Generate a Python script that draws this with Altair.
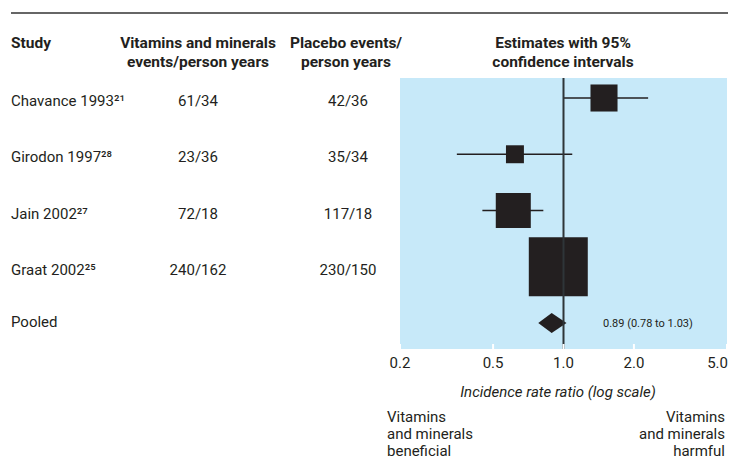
import altair as alt
import pandas as pd

# ---- data ----
studies = ["Chavance 1993", "Girodon 1997", "Jain 2002", "Graat 2002"]
refs = ["²¹", "²⁸", "²⁷", "²⁵"]
vm_events = ["61/34", "23/36", "72/18", "240/162"]
pl_events = ["42/36", "35/34", "117/18", "230/150"]
est = [1.49, 0.62, 0.61, 0.95]
lo = [1.00, 0.35, 0.45, 0.78]
hi = [2.30, 1.09, 0.82, 1.16]
weight = [12.7, 5.6, 21.3, 60.4]
pooled_est, pooled_lo, pooled_hi = 0.89, 0.78, 1.03
pooled_label = "0.89 (0.78 to 1.03)"
ticks = [0.2, 0.5, 1.0, 2.0, 5.0]

# ---- layout ----
W, H = 327, 271
FONT = "Roboto, sans-serif"
TXT = "#231f20"
FS = 15

rows = list(range(len(studies)))
pooled_row = len(studies)
df = pd.DataFrame({
    "row": rows,
    "study": [s + r for s, r in zip(studies, refs)],
    "vm": vm_events, "pl": pl_events,
    "est": est, "lo": lo, "hi": hi, "w": weight,
})
df_pool_txt = pd.DataFrame({"row": [pooled_row], "study": ["Pooled"], "lab": [pooled_label]})
h = 10 / 56.25
df_diamond = pd.DataFrame({
    "x": [pooled_lo, pooled_est, pooled_hi],
    "y": [pooled_row, pooled_row - h, pooled_row],
    "y2": [pooled_row, pooled_row + h, pooled_row],
})
df_ticks = pd.DataFrame({"t": ticks})
df_ticks_mid = pd.DataFrame({"t": ticks[:-1]})
df_ticks_last = pd.DataFrame({"t": ticks[-1:]})
df_one = pd.DataFrame({"v": [1.0]})

xs = alt.Scale(type="log", domain=[0.2, 5], range=[0, W], nice=False)
ys = alt.Scale(domain=[-0.3556, 4.462], reverse=True, nice=False, zero=False)
X = lambda f: alt.X(f, scale=xs, axis=None)
Y = lambda f: alt.Y(f, scale=ys, axis=None)

base = alt.Chart(df)

ci = base.mark_rule(color=TXT, strokeWidth=1.5).encode(X("lo:Q"), x2="hi:Q", y=Y("row:Q"))
sq = base.mark_square(color=TXT, opacity=1, strokeWidth=0).encode(
    X("est:Q"), Y("row:Q"),
    size=alt.Size("w:Q", scale=alt.Scale(domain=[0, 100], range=[0, 5759]), legend=None),
)
diamond = alt.Chart(df_diamond).mark_area(color=TXT, opacity=1).encode(
    X("x:Q"), Y("y:Q"), y2="y2:Q"
)
vline = alt.Chart(df_one).mark_rule(color="#2e3538", strokeWidth=2).encode(
    X("v:Q"), y=alt.value(0), y2=alt.value(H)
)
wticks = alt.Chart(df_ticks).mark_rule(color="white", strokeWidth=2).encode(
    X("t:Q"), y=alt.value(H - 5), y2=alt.value(H)
)
tick_labels = alt.Chart(df_ticks_mid).mark_text(
    font=FONT, fontSize=FS, color=TXT, baseline="alphabetic", align="center"
).encode(X("t:Q"), y=alt.value(290), text=alt.Text("t:Q", format=".1f"))
tick_label_last = alt.Chart(df_ticks_last).mark_text(
    font=FONT, fontSize=FS, color=TXT, baseline="alphabetic", align="right", dx=1
).encode(X("t:Q"), y=alt.value(290), text=alt.Text("t:Q", format=".1f"))

pool_lab = alt.Chart(df_pool_txt).mark_text(
    font=FONT, fontSize=11, color=TXT, align="left", baseline="alphabetic", dy=4
).encode(x=alt.value(203), y=Y("row:Q"), text="lab:N")

def col_text(data, field, xpx, align, dy):
    return alt.Chart(data).mark_text(
        font=FONT, fontSize=FS, color=TXT, align=align, baseline="alphabetic", dy=dy
    ).encode(x=alt.value(xpx), y=Y("row:Q"), text=f"{field}:N")

study_txt = col_text(df, "study", -389, "left", 8)
pool_txt = col_text(df_pool_txt, "study", -389, "left", 4)
vm_txt = col_text(df, "vm", -202, "center", 8)
pl_txt = col_text(df, "pl", -52, "center", 8)

hdr_text = ["Study", "Vitamins and minerals\nevents/person years", "Placebo events/\nperson years",
            "Estimates with 95%\nconfidence intervals"]
hdr_x = [-389, -202, -54, 163]
hdr_align = ["left", "center", "center", "center"]
headers = []
for t, xp, a in zip(hdr_text, hdr_x, hdr_align):
    headers.append(
        alt.Chart(pd.DataFrame({"t": [t]})).mark_text(
            font=FONT, fontSize=15.5, fontWeight="bold", color=TXT, align=a,
            baseline="alphabetic", lineBreak="\n", lineHeight=19,
        ).encode(x=alt.value(xp), y=alt.value(-30), text="t:N")
    )

topline = alt.Chart(df_one).mark_rule(color="#333333", strokeWidth=1.5).encode(
    x=alt.value(-389), x2=alt.value(328), y=alt.value(-65)
)

xtitle = alt.Chart(pd.DataFrame({"t": ["Incidence rate ratio (log scale)"]})).mark_text(
    font=FONT, fontSize=FS, fontStyle="italic", color=TXT, align="center", baseline="alphabetic"
).encode(x=alt.value(158), y=alt.value(319), text="t:N")
left_note = alt.Chart(pd.DataFrame({"t": ["Vitamins\nand minerals\nbeneficial"]})).mark_text(
    font=FONT, fontSize=FS, color=TXT, align="left", baseline="alphabetic", lineBreak="\n", lineHeight=17
).encode(x=alt.value(-13), y=alt.value(344), text="t:N")
right_note = alt.Chart(pd.DataFrame({"t": ["Vitamins\nand minerals\nharmful"]})).mark_text(
    font=FONT, fontSize=FS, color=TXT, align="right", baseline="alphabetic", lineBreak="\n", lineHeight=17
).encode(x=alt.value(325), y=alt.value(344), text="t:N")

chart = alt.layer(
    ci, sq, diamond, vline, wticks, tick_labels, tick_label_last, pool_lab,
    study_txt, pool_txt, vm_txt, pl_txt, *headers, topline, xtitle, left_note, right_note,
).properties(
    width=W, height=H,
    autosize=alt.AutoSizeParams(type="none"),
    padding={"left": 392, "top": 70, "right": 1, "bottom": 113},
    background="white",
).configure_view(stroke=None, fill="#c7e9f9")

chart.save("out.html", embed_options={"renderer": "svg", "actions": False})
